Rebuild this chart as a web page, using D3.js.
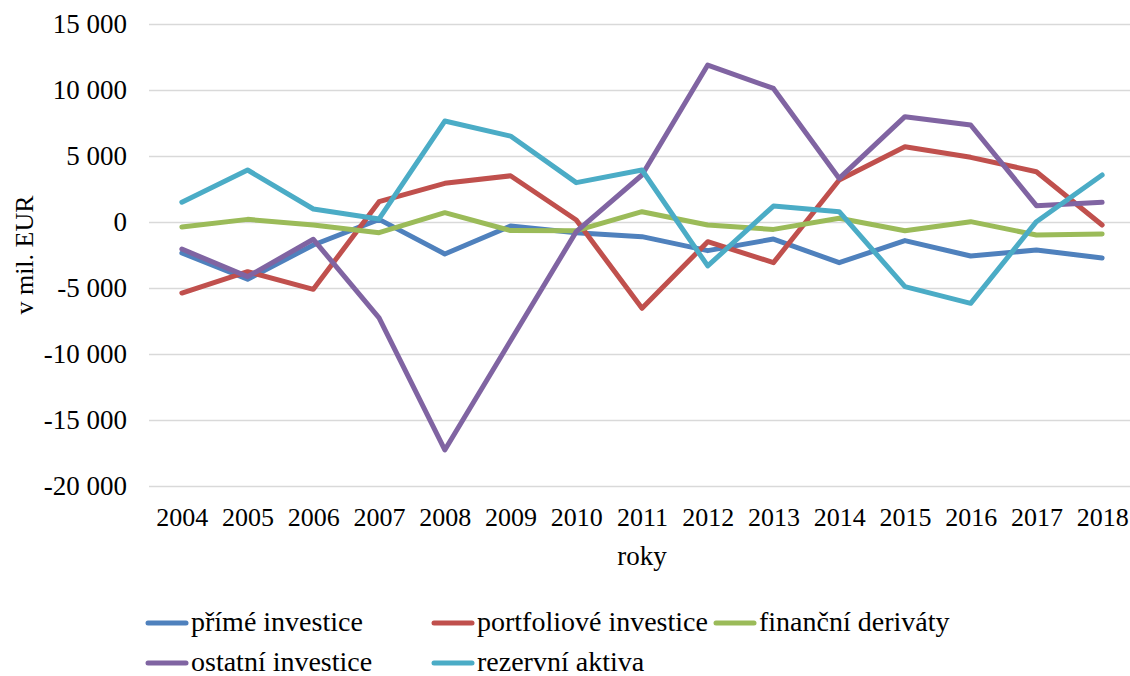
<!DOCTYPE html>
<html lang="cs">
<head>
<meta charset="utf-8">
<script src="https://cdn.jsdelivr.net/npm/d3@7"></script>
<style>
  html, body { margin: 0; padding: 0; background: #fff; }
  svg { display: block; }
  svg text { font-family: "Liberation Serif", "Times New Roman", serif; fill: #000; }
</style>
</head>
<body>
<svg id="chart" width="1130" height="676"></svg>
<script>
// Roky a hodnoty jednotlivých položek finančního účtu (v mil. EUR)
const years = ["2004","2005","2006","2007","2008","2009","2010","2011","2012","2013","2014","2015","2016","2017","2018"];

const primeInvestice      = [-2350, -4340, -1740,   200, -2420,  -300,  -810, -1110, -2170, -1290, -3080, -1410, -2580, -2120, -2730];
const portfolioveInvestice = [-5380, -3760, -5100,  1540,  2930,  3500,   150, -6540, -1490, -3080,  3180,  5700,  4900,  3810,  -230];
const financniDerivaty    = [ -380,   200,  -230,  -810,   710,  -650,  -660,   780,  -230,  -560,   280,  -660,    25,  -990,  -900];
const ostatniInvestice    = [-2050, -4140, -1310, -7270, -17270, -9000, -730,  3560, 11890, 10120,  3300,  7980,  7350,  1240,  1490];
const rezervniAktiva      = [ 1500,  3940,   985,   230,  7650,  6510,  2980,  3940, -3330,  1210,   780, -4900, -6160,    25,  3560];

const seriesNames  = ["přímé investice", "portfoliové investice", "finanční deriváty", "ostatní investice", "rezervní aktiva"];
const seriesColors = ["#4F81BD", "#C0504D", "#9BBB59", "#8064A2", "#4BACC6"];
const seriesValues = [primeInvestice, portfolioveInvestice, financniDerivaty, ostatniInvestice, rezervniAktiva];

const yTicks = [-20000, -15000, -10000, -5000, 0, 5000, 10000, 15000];
const yTitle = "v mil. EUR";
const xTitle = "roky";

const FONT = "'Liberation Serif', 'Times New Roman', serif";
const svg = d3.select("#chart");
const plotLeft = 149, plotRight = 1135, plotTop = 24, plotBottom = 486;

const x = d3.scalePoint().domain(years).range([plotLeft, plotRight]).padding(0.5);
const y = d3.scaleLinear().domain([-20000, 15000]).range([plotBottom, plotTop]);

const csLocale = d3.formatLocale({ decimal: ",", thousands: " ", grouping: [3], currency: ["", " €"], minus: "-" });
const fmt = csLocale.format(",");

// osa Y s vodorovnou mřížkou
const yAxis = svg.append("g")
  .attr("transform", `translate(${plotLeft},0)`)
  .call(d3.axisLeft(y).tickValues(yTicks).tickFormat(fmt).tickSize(-(plotRight - plotLeft)).tickPadding(22));
yAxis.attr("font-family", FONT).attr("font-size", 27);
yAxis.select(".domain").remove();
yAxis.selectAll(".tick line").attr("stroke", "#d9d9d9").attr("stroke-width", 1.4);
yAxis.selectAll(".tick text").attr("fill", "#000").style("font-size", "27px");

// osa X s roky
const xAxis = svg.append("g")
  .attr("transform", `translate(0,${plotBottom})`)
  .call(d3.axisBottom(x).tickSize(0).tickPadding(22));
xAxis.attr("font-family", FONT).attr("font-size", 26);
xAxis.select(".domain").remove();
xAxis.selectAll(".tick text").attr("fill", "#000").style("font-size", "26px");

// popisky os
svg.append("text")
  .attr("x", (plotLeft + plotRight) / 2).attr("y", 565)
  .attr("text-anchor", "middle").style("font-size", "27px")
  .text(xTitle);

svg.append("text")
  .attr("transform", `translate(33,${(plotTop + plotBottom) / 2}) rotate(-90)`)
  .attr("text-anchor", "middle").style("font-size", "26px")
  .text(yTitle);

// čáry jednotlivých řad
const line = d3.line().x((d, i) => x(years[i])).y(d => y(d));
seriesValues.forEach((vals, k) => {
  svg.append("path")
    .datum(vals)
    .attr("d", line)
    .attr("fill", "none")
    .attr("stroke", seriesColors[k])
    .attr("stroke-width", 5)
    .attr("stroke-linejoin", "round")
    .attr("stroke-linecap", "round");
});

// legenda
const legendPos = [
  { x: 148, y: 623 },
  { x: 434, y: 623 },
  { x: 716, y: 623 },
  { x: 148, y: 663 },
  { x: 434, y: 663 }
];
const legend = svg.append("g");
seriesNames.forEach((name, k) => {
  const p = legendPos[k];
  legend.append("line")
    .attr("x1", p.x).attr("x2", p.x + 38)
    .attr("y1", p.y).attr("y2", p.y)
    .attr("stroke", seriesColors[k]).attr("stroke-width", 5).attr("stroke-linecap", "round");
  legend.append("text")
    .attr("x", p.x + 43).attr("y", p.y + 8)
    .style("font-size", "28px")
    .text(name);
});
</script>
</body>
</html>
